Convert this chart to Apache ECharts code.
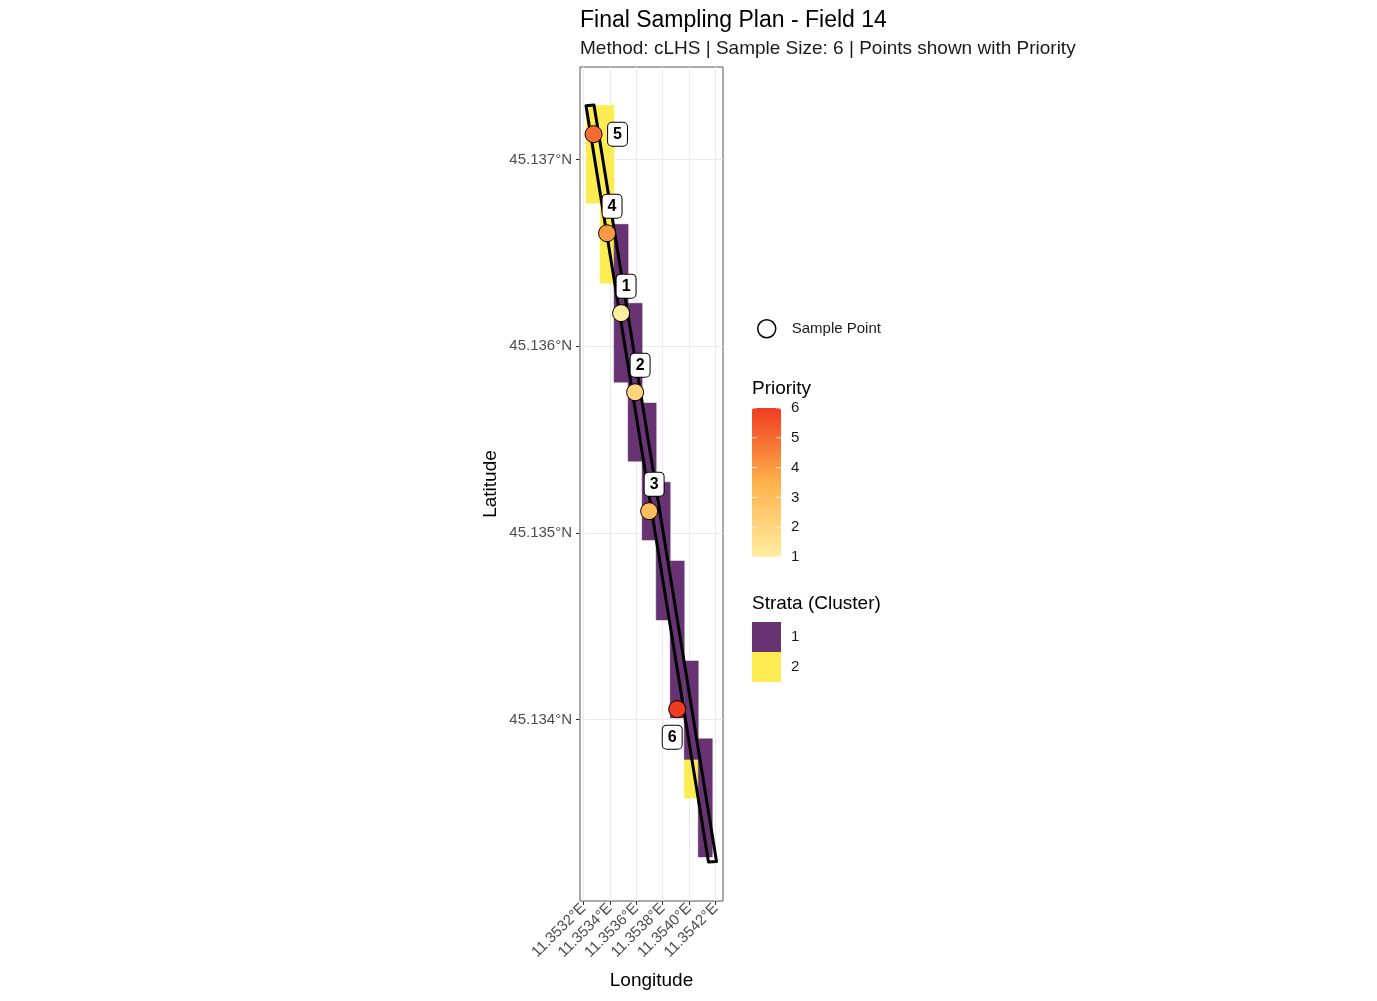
<!DOCTYPE html>
<html>
<head>
<meta charset="utf-8">
<script src="https://cdn.jsdelivr.net/npm/echarts@6/dist/echarts.min.js"></script>
<style>
  html, body { margin: 0; padding: 0; background: #fff; }
  #chart { width: 1377px; height: 1001px; }
</style>
</head>
<body>
<div id="chart"></div>
<script>
  // 栅格单元（分层 / 聚类）
  var cellWest  = [11.3532205, 11.3533265, 11.3534326, 11.3535386, 11.3536447, 11.3537508, 11.3538568, 11.3539629, 11.3539629, 11.3540689];
  var cellEast  = [11.3533265, 11.3534326, 11.3535386, 11.3536447, 11.3537508, 11.3538568, 11.3539629, 11.3540689, 11.3540689, 11.3541750];
  var cellSouth = [45.136766, 45.136337, 45.135807, 45.135384, 45.134961, 45.134533, 45.134008, 45.133783, 45.133579, 45.133263];
  var cellNorth = [45.137291, 45.137291, 45.136653, 45.136230, 45.135695, 45.135271, 45.134849, 45.134313, 45.133783, 45.133896];
  var cellCluster = [2, 2, 1, 1, 1, 1, 1, 1, 2, 1];

  // 田块边界（西北、东北、东南、西南）
  var fieldLon = [11.3532204, 11.3532808, 11.3542069, 11.3541464];
  var fieldLat = [45.1372882, 45.1372920, 45.1332383, 45.1332360];

  // 采样点
  var sampleId  = [1, 2, 3, 4, 5, 6];
  var sampleLon = [11.3534856, 11.3535917, 11.3536977, 11.3533795, 11.3532773, 11.3539098];
  var sampleLat = [45.136177, 45.135753, 45.135116, 45.136605, 45.137136, 45.134055];
  var samplePriority = [1, 2, 3, 4, 5, 6];

  // 刻度
  var lonTicks = [11.3532, 11.3534, 11.3536, 11.3538, 11.3540, 11.3542];
  var latTicks = [45.134, 45.135, 45.136, 45.137];
  var priorityTicks = [1, 2, 3, 4, 5, 6];
  var strataLevels = ['1', '2'];

  var clusterColor = { 1: '#673373', 2: '#FDEC51' };
  var priorityColors = ['#FFEDA0', '#FEB24C', '#F03B20'];
  var font = '"Liberation Sans", Arial, sans-serif';

  var cellData = cellWest.map(function (w, i) {
    return [w, cellEast[i], cellSouth[i], cellNorth[i], cellCluster[i]];
  });
  var fieldData = fieldLon.map(function (x, i) { return [x, fieldLat[i]]; });
  var sampleData = sampleId.map(function (id, i) {
    return [sampleLon[i], sampleLat[i], samplePriority[i], id];
  });

  // 标签位置（模仿 ggrepel 的摆放），单位 px
  var labelOffset = { 5: [24, 0], 6: [-5, 28] };

  // 图例（Priority 色条 + Strata）
  var barTop = 408, barH = 149, barLeft = 752, barW = 29;
  var graphics = [];
  graphics.push({ type: 'text', left: barLeft, top: 379,
    style: { text: 'Priority', font: '19px ' + font, fill: '#000' } });
  priorityTicks.forEach(function (v) {
    var y = barTop + (6 - v) / 5 * barH;
    graphics.push({ type: 'text', x: 791, y: y,
      style: { text: String(v), font: '15px ' + font, fill: '#1a1a1a', verticalAlign: 'middle' }, z: 10 });
    graphics.push({ type: 'line', shape: { x1: barLeft, y1: y, x2: barLeft + 5, y2: y },
      style: { stroke: '#fff', lineWidth: 1, opacity: 0.7 }, z: 10 });
    graphics.push({ type: 'line', shape: { x1: barLeft + barW - 5, y1: y, x2: barLeft + barW, y2: y },
      style: { stroke: '#fff', lineWidth: 1, opacity: 0.7 }, z: 10 });
  });
  graphics.push({ type: 'text', left: barLeft, top: 594,
    style: { text: 'Strata (Cluster)', font: '19px ' + font, fill: '#000' } });
  strataLevels.forEach(function (s, i) {
    graphics.push({ type: 'rect', shape: { x: barLeft, y: 622 + i * 30, width: barW, height: 30 },
      style: { fill: clusterColor[s] } });
    graphics.push({ type: 'text', x: 791, y: 637 + i * 30,
      style: { text: s, font: '15px ' + font, fill: '#1a1a1a', verticalAlign: 'middle' } });
  });

  var chart = echarts.init(document.getElementById('chart'));
  var option = {
    backgroundColor: '#fff',
    animation: false,
    title: {
      text: 'Final Sampling Plan - Field 14',
      subtext: 'Method: cLHS | Sample Size: 6 | Points shown with Priority',
      left: 575, top: 4, itemGap: 7,
      textStyle: { fontFamily: font, fontSize: 23, fontWeight: 'normal', color: '#000' },
      subtextStyle: { fontFamily: font, fontSize: 19, color: '#1a1a1a' }
    },
    grid: {
      left: 580, right: 654, top: 67, bottom: 100,
      show: true, borderColor: '#555', borderWidth: 1, backgroundColor: '#fff'
    },
    legend: {
      left: 752, top: 314, orient: 'vertical',
      itemWidth: 18, itemHeight: 18,
      textStyle: { fontFamily: font, fontSize: 15, color: '#1a1a1a', padding: [0, 0, 0, 11] },
      data: [{ name: 'Sample Point', icon: 'circle',
        itemStyle: { color: '#fff', borderColor: '#000', borderWidth: 1.5 } }]
    },
    visualMap: {
      type: 'continuous', min: 1, max: 6, dimension: 2, seriesIndex: 2,
      left: barLeft, top: barTop, itemWidth: barW, itemHeight: barH,
      padding: 0, calculable: false, text: null, showLabel: false, hoverLink: false,
      inRange: { color: priorityColors }
    },
    xAxis: {
      type: 'value', min: 11.353175, max: 11.354256,
      name: 'Longitude', nameLocation: 'middle', nameGap: 70,
      nameTextStyle: { fontFamily: font, fontSize: 19, color: '#000' },
      axisLine: { show: false },
      axisTick: { show: true, length: 4, customValues: lonTicks, lineStyle: { color: '#333' } },
      axisLabel: {
        customValues: lonTicks, rotate: 45, margin: 5,
        fontFamily: font, fontSize: 15, color: '#4d4d4d',
        formatter: function (v) { return v.toFixed(4) + '°E'; }
      },
      splitLine: { show: true, lineStyle: { color: '#ebebeb', width: 1.2 } }
    },
    yAxis: {
      type: 'value', min: 45.133027, max: 45.137496,
      name: 'Latitude', nameLocation: 'middle', nameGap: 80, nameRotate: 90,
      nameTextStyle: { fontFamily: font, fontSize: 19, color: '#000' },
      axisLine: { show: false },
      axisTick: { show: true, length: 4, customValues: latTicks, lineStyle: { color: '#333' } },
      axisLabel: {
        customValues: latTicks, margin: 8,
        fontFamily: font, fontSize: 15, color: '#4d4d4d',
        formatter: function (v) { return v.toFixed(3) + '°N'; }
      },
      splitLine: { show: true, lineStyle: { color: '#ebebeb', width: 1.2 } }
    },
    graphic: graphics,
    series: [
      {
        type: 'custom', name: 'Strata', z: 1, silent: true,
        data: cellData,
        encode: { x: [0, 1], y: [2, 3] },
        renderItem: function (params, api) {
          var p0 = api.coord([api.value(0), api.value(3)]);
          var p1 = api.coord([api.value(1), api.value(2)]);
          return {
            type: 'rect',
            shape: { x: p0[0], y: p0[1], width: p1[0] - p0[0], height: p1[1] - p0[1] },
            style: { fill: clusterColor[api.value(4)], stroke: clusterColor[api.value(4)], lineWidth: 0.5 }
          };
        }
      },
      {
        // 田块边界：一个只描边的多边形
        type: 'custom', name: 'Field', z: 2, silent: true,
        data: [0],
        renderItem: function (params, api) {
          var pts = fieldData.map(function (d) { return api.coord(d); });
          return {
            type: 'polygon',
            shape: { points: pts },
            style: { fill: 'none', stroke: '#000', lineWidth: 3, lineJoin: 'round' }
          };
        }
      },
      {
        type: 'scatter', name: 'Sample Point', z: 3,
        data: sampleData, symbolSize: 17,
        itemStyle: { borderColor: '#000', borderWidth: 1, opacity: 1 },
        label: {
          show: true, position: 'inside',
          formatter: function (p) { return String(p.value[3]); },
          fontFamily: font, fontSize: 16, fontWeight: 'bold', color: '#000',
          backgroundColor: '#fff', borderColor: '#000', borderWidth: 1, borderRadius: 4,
          padding: [4, 5, 3, 5]
        },
        labelLayout: function (p) {
          var off = labelOffset[sampleId[p.dataIndex]] || [5, -27];
          return { dx: off[0], dy: off[1], hideOverlap: false };
        }
      }
    ]
  };
  chart.setOption(option);
</script>
</body>
</html>
